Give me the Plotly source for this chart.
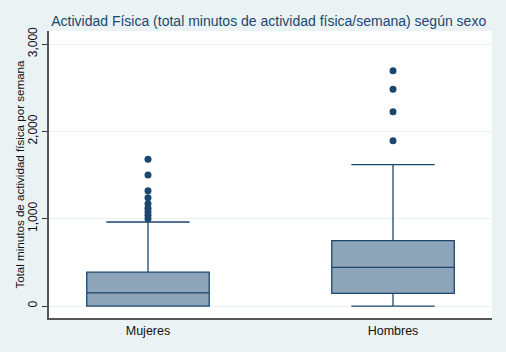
import plotly.graph_objects as go

categories = ["Mujeres", "Hombres"]
q1 = [0, 145]
median = [150, 443]
q3 = [388, 748]
lower_whisker = [0, 0]
upper_whisker = [962, 1618]
outliers_mujeres = [1680, 1500, 1320, 1240, 1170, 1120, 1080, 1040, 1000]
outliers_hombres = [2695, 2481, 2225, 1893]
y_ticks = [0, 1000, 2000, 3000]
y_tick_labels = ["0", "1,000", "2,000", "3,000"]
y_title = "Total minutos de actividad física por semana"

navy = "#1A476F"
fill = "#8EA4B8"
bg = "#EAF2F3"

fig = go.Figure()
fig.add_trace(go.Box(
    x=categories, q1=q1, median=median, q3=q3,
    lowerfence=lower_whisker, upperfence=upper_whisker,
    fillcolor=fill, line=dict(color=navy, width=1.3),
    width=0.5, whiskerwidth=0.68, boxpoints=False, showlegend=False,
    hoverinfo="skip",
))
fig.add_trace(go.Scatter(
    x=[categories[0]] * len(outliers_mujeres) + [categories[1]] * len(outliers_hombres),
    y=outliers_mujeres + outliers_hombres,
    mode="markers", marker=dict(color=navy, size=7),
    showlegend=False, hoverinfo="skip",
))

fig.update_layout(
    width=506, height=352,
    paper_bgcolor=bg, plot_bgcolor="white",
    margin=dict(l=49, r=14, t=31, b=34),
    font=dict(family="Liberation Sans, Arial, sans-serif", size=11, color="#000000"),
    title=dict(
        text="Actividad Física (total minutos de actividad física/semana) según sexo",
        x=0.531, xanchor="center", y=0.94, yanchor="middle",
        font=dict(size=14, color=navy),
    ),
    annotations=[dict(
        text=y_title, xref="paper", yref="paper", x=-0.0655, y=0.503,
        xanchor="center", yanchor="middle", textangle=-90, showarrow=False,
        font=dict(size=11.6, color="#111111"),
    )],
)
fig.update_xaxes(
    type="category", range=[-0.404, 1.404], automargin=False,
    showline=True, linecolor="#555555", linewidth=1.5,
    showgrid=False, ticks="", tickfont=dict(size=12.5, color="#111111"),
    zeroline=False,
)
fig.update_yaxes(
    range=[-137, 3149], automargin=False,
    tickvals=y_ticks, ticktext=y_tick_labels, tickangle=-90,
    showline=True, linecolor="#555555", linewidth=1.5,
    ticks="outside", ticklen=5, tickcolor="#333333",
    showgrid=True, gridcolor=bg, gridwidth=1, zeroline=False,
    tickfont=dict(size=12, color="#111111"),
)

fig.write_html("out.html", config={"displayModeBar": False},
               post_script="document.body.style.margin='0';")
